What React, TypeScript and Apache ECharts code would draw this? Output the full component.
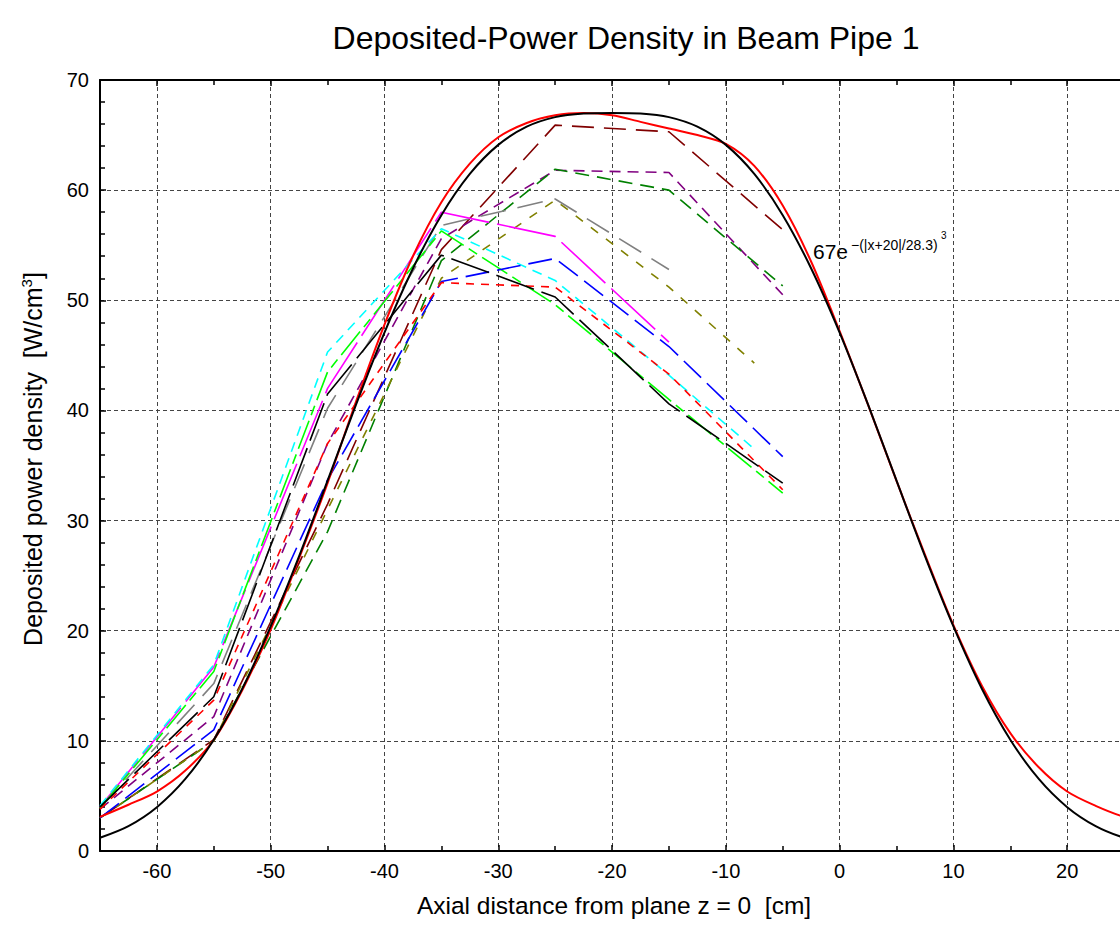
import React, { useEffect, useRef } from 'react';
import * as echarts from 'echarts';

const X_FIT = [-65, -62.5, -60, -57.5, -55, -52.5, -50, -47.5, -45, -42.5, -40, -37.5, -35, -32.5, -30, -27.5, -25, -22.5, -20, -17.5, -15, -12.5, -10, -7.5, -5, -2.5, 0, 2.5, 5, 7.5, 10, 12.5, 15, 17.5, 20, 22.5, 25, 27.5, 30];
const FIT_CURVE = [1.2, 2.26, 3.98, 6.54, 10.1, 14.73, 20.39, 26.77, 33.62, 40.53, 47.07, 52.89, 57.73, 61.47, 64.11, 65.76, 66.63, 66.95, 67.0, 66.95, 66.63, 65.76, 64.11, 61.47, 57.73, 52.89, 47.07, 40.53, 33.62, 26.77, 20.39, 14.73, 10.1, 6.54, 3.98, 2.26, 1.2, 0.59, 0.27];
const RED_CURVE = [3.1, 4.2, 5.4, 7.3, 10.1, 14.6, 20.1, 26.6, 33.4, 40.8, 47.8, 54.0, 58.9, 62.4, 64.8, 66.1, 66.8, 67.0, 66.8, 66.2, 65.6, 65.0, 64.2, 62.2, 58.6, 53.5, 47.2, 40.5, 33.6, 26.9, 20.5, 15.0, 10.7, 7.6, 5.4, 4.1, 3.1, 2.5, 2.0];

// Measured profiles
const X_FULL = [-65, -55, -45, -35, -25, -15, -5];
const X_TO_75 = [-65, -55, -45, -35, -25, -15, -7.5];
const X_TO_15 = [-65, -55, -45, -35, -25, -15];

const BLACK_DASH = [4.0, 14.0, 41.5, 54.1, 50.3, 40.6, 33.4];
const RED_DASH = [3.8, 13.7, 37.0, 51.6, 51.2, 43.3, 32.8];
const BLUE_DASH = [3.0, 11.0, 33.7, 51.7, 53.8, 45.8, 35.8];
const LIME_DASH = [3.9, 16.3, 43.5, 56.3, 49.6, 41.0, 32.5];
const PURPLE_DASH = [3.8, 12.2, 37.0, 55.6, 61.8, 61.6, 50.5];
const GREEN_DASH = [3.0, 10.0, 29.0, 53.6, 61.9, 60.0, 51.3];
const MAROON_DASH = [3.0, 10.1, 31.5, 54.6, 65.9, 65.3, 56.4];
const CYAN_DASH = [4.1, 16.9, 45.3, 56.5, 51.8, 43.2, 36.5];
const OLIVE_DASH = [3.0, 10.0, 31.0, 52.0, 59.1, 51.2, 44.3];
const MAGENTA_LINE = [4.0, 16.7, 42.0, 58.0, 55.8, 46.2];
const GRAY_DASH = [3.9, 15.2, 40.2, 56.8, 59.2, 52.8];

const zip = (xs: number[], ys: number[]) => xs.map((x, i) => [x, ys[i]]);

const FONT = 'Liberation Sans, Arial, Helvetica, sans-serif';

export default function App() {
  const ref = useRef<HTMLDivElement>(null);
  useEffect(() => {
    if (!ref.current) return;
    const chart = echarts.init(ref.current, null, { renderer: 'svg' });

    const dashed = (data: number[][], color: string, type: number[] | string, width = 1.6) => ({
      type: 'line',
      data,
      symbol: 'none',
      lineStyle: { color, width, type },
      z: 2,
    });

    const xBase = {
      type: 'value',
      min: -65,
      max: 30,
      splitNumber: 10,
      minInterval: 10,
      maxInterval: 10,
      axisLine: { show: true, onZero: false, lineStyle: { color: '#000', width: 2 } },
      axisTick: { show: true, inside: true, length: 6, lineStyle: { color: '#000', width: 1.5 } },
      minorTick: { show: true, splitNumber: 2, length: 5, lineStyle: { color: '#000', width: 1.5 } },
    };

    chart.setOption({
      animation: false,
      backgroundColor: '#fff',
      grid: { left: 100, top: 80, width: 1081, height: 771, containLabel: false },
      xAxis: [
        {
          ...xBase,
          position: 'bottom',
          axisLabel: {
            color: '#000',
            fontSize: 20,
            fontFamily: FONT,
            margin: 10,
            formatter: (v: number) => (v % 10 === 0 && v <= 25 ? String(v) : ''),
          },
          splitLine: { show: true, lineStyle: { color: '#444', width: 1, type: [4, 3] } },
        },
        {
          ...xBase,
          position: 'top',
          axisLabel: { show: false },
          splitLine: { show: false },
        },
      ],
      yAxis: [
        {
          type: 'value',
          min: 0,
          max: 70,
          interval: 10,
          position: 'left',
          axisLine: { show: true, onZero: false, lineStyle: { color: '#000', width: 2 } },
          axisTick: { show: true, inside: true, length: 6, lineStyle: { color: '#000', width: 1.5 } },
          minorTick: { show: true, splitNumber: 5, length: 5, lineStyle: { color: '#000', width: 1.5 } },
          axisLabel: { color: '#000', fontSize: 20, fontFamily: FONT, margin: 11 },
          splitLine: { show: true, lineStyle: { color: '#444', width: 1, type: [4, 3] } },
        },
      ],
      series: [
        dashed(zip(X_FULL, MAROON_DASH), '#800000', [22, 10]),
        dashed(zip(X_FULL, PURPLE_DASH), '#800080', [11, 7]),
        dashed(zip(X_FULL, GREEN_DASH), '#008000', [14, 8]),
        dashed(zip(X_TO_75, OLIVE_DASH), '#808000', [9, 10]),
        dashed(zip(X_TO_15, GRAY_DASH), '#808080', [26, 12]),
        dashed(zip(X_TO_15, MAGENTA_LINE), '#ff00ff', [60, 8]),
        dashed(zip(X_TO_75, CYAN_DASH), '#00ffff', [10, 7]),
        dashed(zip(X_FULL, LIME_DASH), '#00ff00', [30, 6, 10, 6]),
        dashed(zip(X_FULL, BLUE_DASH), '#0000ff', [24, 8]),
        dashed(zip(X_FULL, RED_DASH), '#ff0000', [8, 7]),
        dashed(zip(X_FULL, BLACK_DASH), '#000000', [40, 8]),
        {
          type: 'line',
          data: zip(X_FIT, RED_CURVE),
          symbol: 'none',
          smooth: 0.3,
          lineStyle: { color: '#ff0000', width: 2, type: 'solid' },
          z: 3,
        },
        {
          type: 'line',
          data: zip(X_FIT, FIT_CURVE),
          symbol: 'none',
          smooth: 0.3,
          lineStyle: { color: '#000000', width: 2, type: 'solid' },
          z: 3,
        },
      ],
      graphic: [
        {
          type: 'text',
          x: 626,
          y: 38,
          style: {
            text: 'Deposited-Power Density in Beam Pipe 1',
            font: `32px ${FONT}`,
            fill: '#000',
            textAlign: 'center',
            textVerticalAlign: 'middle',
          },
        },
        {
          type: 'text',
          x: 614,
          y: 905,
          style: {
            text: 'Axial distance from plane z = 0  [cm]',
            font: `24.5px ${FONT}`,
            fill: '#000',
            textAlign: 'center',
            textVerticalAlign: 'middle',
          },
        },
        {
          type: 'text',
          x: 33,
          y: 459,
          rotation: Math.PI / 2,
          style: {
            text: 'Deposited power density  [W/cm{s|3}]',
            font: `25px ${FONT}`,
            fill: '#000',
            textAlign: 'center',
            textVerticalAlign: 'middle',
            rich: {
              s: { fontSize: 15, fontFamily: FONT, fill: '#000', padding: [0, 0, 14, 0] },
            },
          },
        },
        {
          type: 'text',
          x: 813,
          y: 251,
          style: { text: '67e', font: `21px ${FONT}`, fill: '#000', textAlign: 'left', textVerticalAlign: 'middle' },
        },
        {
          type: 'text',
          x: 851,
          y: 245,
          style: { text: '\u2212(|x+20|/28.3)', font: `14px ${FONT}`, fill: '#000', textAlign: 'left', textVerticalAlign: 'middle' },
        },
        {
          type: 'text',
          x: 941,
          y: 235,
          style: { text: '3', font: `10px ${FONT}`, fill: '#000', textAlign: 'left', textVerticalAlign: 'middle' },
        },
      ],
    });
    return () => chart.dispose();
  }, []);

  return (
    <div style={{ position: 'absolute', left: 0, top: 0, width: 1120, height: 930, overflow: 'hidden', background: '#fff' }}>
      <div ref={ref} style={{ width: 1200, height: 930 }} />
    </div>
  );
}
